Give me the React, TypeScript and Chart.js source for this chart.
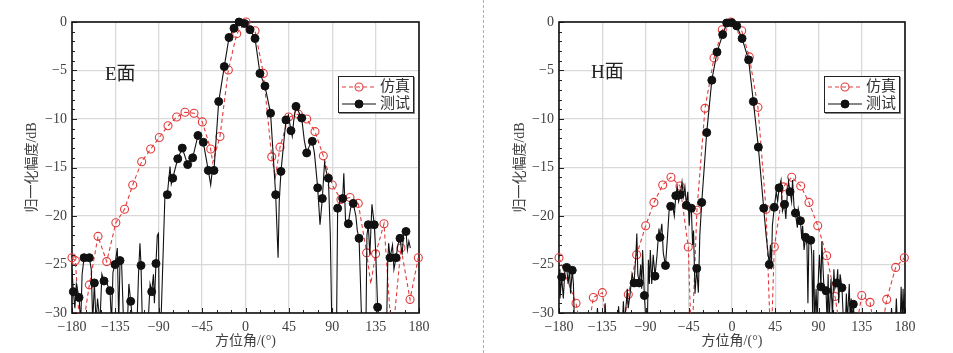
import React, { useEffect, useRef } from "react";
import { Chart, registerables } from "chart.js";

Chart.register(...registerables);

// ---------------- data ----------------
const xTickValues = [-180, -135, -90, -45, 0, 45, 90, 135, 180];
const yTickValues = [0, -5, -10, -15, -20, -25, -30];
const seriesNames = ["仿真", "测试"];
const panelLabels = ["E面", "H面"];
const xAxisTitle = "方位角/(°)";
const yAxisTitle = "归一化幅度/dB";

// E-plane, simulation: marked samples
const eSimMarkAngles = [-180, -176.5, -162, -153, -144, -134.5, -125.5, -117, -107.7, -98.4, -89.4, -80.4, -71.4, -62.8, -53.4, -44.8, -36.1, -26.5, -17.8, -9.1, 0.5, 9.9, 18.5, 27.2, 35.8, 44.8, 54.8, 63.5, 72.1, 80.7, 90, 99, 108.4, 117, 125.7, 135, 143.7, 161.3, 170.7, 179.3];
const eSimMarkValues = [-24.3, -24.6, -27.1, -22.1, -24.7, -20.7, -19.3, -16.8, -14.4, -13.1, -11.9, -10.7, -9.8, -9.3, -9.4, -10.3, -13.1, -11.8, -4.95, -1.2, 0, -0.9, -5.3, -13.9, -12.9, -9.8, -9.5, -10.0, -11.3, -13.8, -16.8, -18.3, -18.1, -18.7, -23.8, -23.9, -20.8, -23.3, -28.6, -24.3];
// E-plane, simulation: unmarked samples (nulls, dips)
const eSimExtraAngles = [-171, -34, 31, 130, 152];
const eSimExtraValues = [-33, -14.5, -16, -27, -33];

// E-plane, measurement: marked samples
const eTestMarkAngles = [-178.6, -172.7, -167.5, -162, -156.8, -146.8, -140.6, -135.4, -130.2, -119.1, -108.4, -97.3, -92.9, -81.1, -75.5, -70.3, -65.6, -60, -54.8, -49.3, -43.8, -38.6, -32.7, -27.8, -22, -17.1, -11.9, -6.7, -1.2, 4.7, 9.9, 15, 20.2, 26, 31.3, 36.8, 42, 47.2, 52.4, 58.3, 63.5, 69.3, 74.9, 79.7, 86, 95.6, 100.8, 106.7, 111.8, 117.8, 127.4, 133.6, 137.1, 150, 156.2, 160.3, 166.5];
const eTestMarkValues = [-27.8, -28.4, -24.3, -24.3, -26.9, -26.7, -27.7, -25.0, -24.6, -28.8, -25.1, -27.8, -24.9, -17.8, -16.1, -14.1, -13.0, -14.7, -14.0, -11.7, -12.4, -15.3, -15.3, -8.2, -4.6, -1.6, -0.65, 0, -0.15, -0.8, -1.7, -5.3, -6.6, -9.4, -17.8, -15.4, -10.1, -11.2, -8.7, -9.9, -13.5, -12.3, -17.1, -18.2, -16.1, -19.2, -18.2, -20.8, -18.7, -22.3, -20.9, -20.9, -29.4, -24.3, -24.3, -22.3, -21.6];
// E-plane, measurement: unmarked samples (noise between markers)
const eTestExtraAngles = [-180, -177, -175.5, -171, -169.5, -165.5, -164, -160, -158.5, -155, -153.5, -151, -149, -144, -142.5, -139, -137.5, -133, -131.5, -128.5, -126.5, -122.5, -121, -117, -112.5, -111, -109.5, -107, -101, -99, -95.5, -94.5, -91.5, -90.3, -89.5, -87.7, -83.5, -78.3, -77, -36.1, -34.5, 33.8, 35, 44.5, 48.5, 50, 61, 66.2, 71.5, 77.3, 82, 84, 88, 89.5, 94.5, 98, 102, 104, 109, 114.5, 116, 119, 120.5, 125, 126, 129, 131.2, 135, 139.5, 146.5, 147.5, 148.5, 152.5, 154, 158, 162.5, 164, 168, 169.5, 171];
const eTestExtraValues = [-25.5, -29.5, -27, -31, -26, -24.6, -24.1, -25.5, -31, -31, -28.5, -31, -26, -26.8, -27.3, -31, -25.8, -23.3, -31, -25, -31, -31, -27, -31, -31, -26, -22.8, -31, -31, -27, -26, -29, -22, -21.8, -31, -31, -17.6, -14.9, -16.7, -16.8, -15.3, -24.3, -18.5, -9.6, -11.8, -10.2, -12.2, -12.8, -13.5, -20.9, -14.5, -15.5, -22, -31, -31, -18.5, -15.6, -21, -19.2, -20, -21.5, -26, -31, -31, -22, -24, -18.8, -23.5, -31, -31, -25, -22.8, -23, -25.5, -23, -24, -21.8, -23.5, -22.6, -23.3];

// H-plane, simulation: marked samples
const hSimMarkAngles = [-180, -162.3, -144.3, -134.9, -107.9, -99.2, -89.8, -81.2, -72.1, -63.5, -54.1, -45.5, -36.5, -28.1, -18.7, -10.1, -1, 10.1, 18, 27, 35.4, 44, 53.4, 62.1, 71.5, 80.1, 89.2, 98.5, 107.2, 135, 143.6, 161, 170.3, 179.3];
const hSimMarkValues = [-24.3, -29.0, -28.4, -27.9, -28.1, -24.0, -21.0, -18.6, -16.8, -16.0, -16.9, -23.2, -19.4, -8.9, -3.7, -0.8, 0, -0.9, -3.6, -8.8, -19.3, -23.2, -17.0, -16.0, -16.9, -18.6, -21.0, -24.1, -28.3, -28.2, -28.9, -28.6, -25.3, -24.3];
// H-plane, simulation: unmarked samples (nulls)
const hSimExtraAngles = [-153, -126, -117, -42, 40.5, 116, 125, 152];
const hSimExtraValues = [-34, -34, -34, -34, -34, -34, -34, -34];

// H-plane, measurement: marked samples
const hTestMarkAngles = [-177.2, -172, -166.2, -101.9, -96.5, -91.2, -80.1, -74.9, -69.2, -63.8, -58.5, -53.8, -47.5, -42.3, -36.7, -31.5, -26.3, -21, -15.6, -9.7, -5.5, -0.3, 4.9, 10.5, 17.3, 22.2, 27.4, 33, 38.8, 44, 49, 54.7, 60.4, 66, 71.2, 76.5, 81.9, 92.5, 97.8, 108.9, 114.4, 126.2];
const hTestMarkValues = [-26.3, -25.3, -25.6, -26.9, -26.9, -28.2, -26.2, -22.2, -25.1, -19.0, -17.9, -17.8, -18.9, -19.2, -25.4, -18.6, -11.4, -6.0, -3.1, -1.3, -0.1, -0.07, -0.4, -1.7, -3.9, -8.2, -12.9, -19.2, -25.0, -19.1, -17.1, -18.8, -17.5, -19.7, -20.5, -22.2, -22.5, -27.3, -27.7, -26.9, -27.4, -29.1];
// H-plane, measurement: unmarked samples (noise between markers)
const hTestExtraAngles = [-180, -179, -175.5, -174, -170.5, -169, -168, -165, -164, -141, -140, -139, -133, -132, -131, -119, -118, -117, -114, -113, -112, -110, -109, -108, -106, -104, -100, -99, -98, -95, -94, -93, -89.5, -88, -87, -86, -85, -83.5, -82, -78, -76, -73, -71.5, -67, -65.5, -62, -60, -57, -55.5, -52, -50.5, -49, -46, -44.5, -43.5, -41, -40, -38.5, -35, -33.5, 35.5, 40, 41, 42, 46, 47.5, 51, 52.5, 56, 57.5, 58.8, 62, 63, 64.5, 68, 69, 72.5, 73.5, 75, 78, 79, 80, 83, 84, 85, 86, 87.5, 88.5, 90, 91, 93.5, 95, 96, 99, 100, 101, 103, 104.5, 106, 107, 110, 111, 112.5, 116, 118, 119, 120, 122, 123, 124, 125, 127.5, 165, 166, 167, 170, 171, 172, 175, 176, 177, 178, 179, 180];
const hTestExtraValues = [-25.5, -28.5, -28.5, -25.8, -27, -25.5, -28, -27, -31, -31, -29.5, -31, -31, -29.0, -31, -31, -29.3, -31, -31, -28.8, -31, -29, -27.5, -29.5, -28, -26, -24, -21.8, -26, -25, -27.5, -23.5, -31, -31, -24.5, -27, -23.5, -27, -24, -24, -21.3, -20.8, -23.8, -22, -19.5, -18.8, -20, -17, -18.5, -16.5, -18, -17, -17.5, -21, -19, -23, -21.5, -28, -27.9, -22, -22, -23, -25.5, -21, -17.5, -18.5, -16.3, -19.5, -20.3, -17.8, -16.4, -18.5, -16.3, -19, -21.2, -19.3, -22.3, -21, -23.5, -23, -29, -22.5, -24, -31, -23.5, -31, -27.5, -31, -26, -24, -22.6, -26, -28, -31, -26, -31, -26.5, -30.5, -25.5, -27.5, -25.5, -29, -26, -31, -31, -28, -31, -27, -31, -28.5, -31, -31, -31, -29.5, -31, -31, -28.5, -31, -31, -27.3, -31, -27.5, -31, -28];

// ---------------- styling ----------------
const RED = "#e23b3b";
const BLACK = "#111111";
const FONT = "'Liberation Serif', 'Noto Sans CJK SC', serif";
const TICK_COLOR = "#404040";

type Pt = { x: number; y: number };

function toPoints(a: number[], v: number[]): Pt[] {
  return a.map((x, i) => ({ x, y: v[i] }));
}
function merged(a1: number[], v1: number[], a2: number[], v2: number[]): Pt[] {
  return [...toPoints(a1, v1), ...toPoints(a2, v2)].sort((p, q) => p.x - q.x);
}
const fmt = (v: number) => String(v).replace("-", "\u2212");

const frameTicksPlugin = {
  id: "frameTicks",
  beforeDatasetsDraw(chart: any) {
    const { ctx, chartArea: a, scales } = chart;
    const xs = scales.x;
    const ys = scales.y;
    ctx.save();
    ctx.strokeStyle = "#222";
    ctx.lineWidth = 1;
    for (let v = -180; v <= 180; v += 15) {
      const px = Math.round(xs.getPixelForValue(v)) + 0.5;
      const len = v % 45 === 0 ? 5 : 3;
      ctx.beginPath();
      ctx.moveTo(px, a.bottom);
      ctx.lineTo(px, a.bottom - len);
      ctx.stroke();
    }
    for (let v = -30; v <= 0; v += 1) {
      const py = Math.round(ys.getPixelForValue(v)) + 0.5;
      const len = v % 5 === 0 ? 5 : 3;
      ctx.beginPath();
      ctx.moveTo(a.left, py);
      ctx.lineTo(a.left + len, py);
      ctx.stroke();
    }
    ctx.lineWidth = 1.6;
    ctx.strokeStyle = "#111";
    ctx.strokeRect(a.left, a.top, a.right - a.left, a.bottom - a.top);
    ctx.restore();
  },
};

type PanelProps = {
  simMA: number[]; simMV: number[]; simXA: number[]; simXV: number[];
  testMA: number[]; testMV: number[]; testXA: number[]; testXV: number[];
  left: number; width: number; yAxisWidth: number; padRight: number; yTitlePad: number;
};

function Panel(p: PanelProps) {
  const ref = useRef<HTMLCanvasElement | null>(null);
  useEffect(() => {
    if (!ref.current) return;
    const chart = new Chart(ref.current, {
      type: "line",
      data: {
        datasets: [
          {
            label: seriesNames[1] + "-m",
            data: toPoints(p.testMA, p.testMV),
            showLine: false,
            pointRadius: 4,
            pointStyle: "circle",
            pointBackgroundColor: BLACK,
            pointBorderColor: BLACK,
            pointBorderWidth: 1,
            clip: false,
          } as any,
          {
            label: seriesNames[1],
            data: merged(p.testMA, p.testMV, p.testXA, p.testXV),
            borderColor: BLACK,
            borderWidth: 1.1,
            pointRadius: 0,
            tension: 0,
          },
          {
            label: seriesNames[0] + "-m",
            data: toPoints(p.simMA, p.simMV),
            showLine: false,
            pointRadius: 4,
            pointStyle: "circle",
            pointBackgroundColor: "rgba(255,255,255,0)",
            pointBorderColor: RED,
            pointBorderWidth: 1.1,
            clip: false,
          } as any,
          {
            label: seriesNames[0],
            data: merged(p.simMA, p.simMV, p.simXA, p.simXV),
            borderColor: RED,
            borderWidth: 1.1,
            borderDash: [4, 3],
            pointRadius: 0,
            tension: 0,
          },
        ],
      },
      options: {
        responsive: false,
        animation: false,
        events: [],
        layout: { padding: { left: 0, top: 22, right: p.padRight, bottom: 0 } },
        plugins: { legend: { display: false }, tooltip: { enabled: false } },
        scales: {
          x: {
            type: "linear",
            min: -180,
            max: 180,
            afterBuildTicks: (s: any) => {
              s.ticks = xTickValues.map((value) => ({ value }));
            },
            afterFit: (s: any) => {
              s.height = 40;
            },
            ticks: {
              autoSkip: false,
              maxRotation: 0,
              padding: 6,
              color: TICK_COLOR,
              font: { family: FONT, size: 14 },
              callback: (v: any) => fmt(Number(v)),
            },
            grid: { color: "#d9d9d9", lineWidth: 1.3, drawTicks: false },
            border: { display: false },
            title: {
              display: true,
              text: xAxisTitle,
              color: TICK_COLOR,
              font: { family: FONT, size: 14 },
              padding: { top: 0, bottom: 3 },
            },
          },
          y: {
            type: "linear",
            min: -30,
            max: 0,
            afterBuildTicks: (s: any) => {
              s.ticks = yTickValues.map((value) => ({ value }));
            },
            afterFit: (s: any) => {
              s.width = p.yAxisWidth;
            },
            ticks: {
              padding: 5,
              color: TICK_COLOR,
              font: { family: FONT, size: 14 },
              callback: (v: any) => fmt(Number(v)),
            },
            grid: { color: "#d9d9d9", lineWidth: 1.3, drawTicks: false },
            border: { display: false },
            title: {
              display: true,
              text: yAxisTitle,
              color: TICK_COLOR,
              font: { family: FONT, size: 14 },
              padding: { top: p.yTitlePad, bottom: 0 },
            },
          },
        },
      },
      plugins: [frameTicksPlugin],
    } as any);
    return () => chart.destroy();
  }, []);
  return (
    <canvas
      ref={ref}
      width={p.width}
      height={353}
      style={{ position: "absolute", left: p.left, top: 0, width: p.width, height: 353 }}
    />
  );
}

function LegendSymbol({ dashed }: { dashed: boolean }) {
  return (
    <svg width={36} height={12} style={{ display: "block" }}>
      <line
        x1={1}
        y1={6}
        x2={35}
        y2={6}
        stroke={dashed ? RED : BLACK}
        strokeWidth={1.2}
        strokeDasharray={dashed ? "4 3" : undefined}
      />
      {dashed ? (
        <circle cx={18} cy={6} r={4} fill="none" stroke={RED} strokeWidth={1.1} />
      ) : (
        <circle cx={18} cy={6} r={4} fill={BLACK} stroke={BLACK} strokeWidth={1} />
      )}
    </svg>
  );
}

function Legend({ left, top }: { left: number; top: number }) {
  const row: React.CSSProperties = { display: "flex", alignItems: "center", height: 17 };
  const txt: React.CSSProperties = { fontFamily: FONT, fontSize: 15, color: "#333", marginLeft: 3, lineHeight: "17px" };
  return (
    <div
      style={{
        position: "absolute",
        left,
        top,
        width: 72,
        height: 34,
        border: "1.5px solid #222",
        boxShadow: "1px 1px 0 #888",
        background: "#fff",
        padding: "1px 0 0 2px",
        boxSizing: "content-box",
      }}
    >
      <div style={row}>
        <LegendSymbol dashed={true} />
        <span style={txt}>{seriesNames[0]}</span>
      </div>
      <div style={row}>
        <LegendSymbol dashed={false} />
        <span style={txt}>{seriesNames[1]}</span>
      </div>
    </div>
  );
}

export default function App() {
  const label: React.CSSProperties = {
    position: "absolute",
    fontFamily: FONT,
    fontSize: 19,
    lineHeight: "20px",
    color: "#222",
  };
  return (
    <div style={{ position: "absolute", left: 0, top: 0, width: 953, height: 353, background: "#fff", overflow: "hidden" }}>
      <Panel
        simMA={eSimMarkAngles} simMV={eSimMarkValues} simXA={eSimExtraAngles} simXV={eSimExtraValues}
        testMA={eTestMarkAngles} testMV={eTestMarkValues} testXA={eTestExtraAngles} testXV={eTestExtraValues}
        left={0} width={476} yAxisWidth={72} padRight={57} yTitlePad={24}
      />
      <Panel
        simMA={hSimMarkAngles} simMV={hSimMarkValues} simXA={hSimExtraAngles} simXV={hSimExtraValues}
        testMA={hTestMarkAngles} testMV={hTestMarkValues} testXA={hTestExtraAngles} testXV={hTestExtraValues}
        left={477} width={476} yAxisWidth={82} padRight={48} yTitlePad={35}
      />
      <div style={{ position: "absolute", left: 483, top: 0, height: 353, width: 0, borderLeft: "1px dashed #b0b0b0" }} />
      <div style={{ ...label, left: 105, top: 64 }}>{panelLabels[0]}</div>
      <div style={{ ...label, left: 591, top: 62 }}>{panelLabels[1]}</div>
      <Legend left={338} top={76} />
      <Legend left={824} top={76} />
    </div>
  );
}
